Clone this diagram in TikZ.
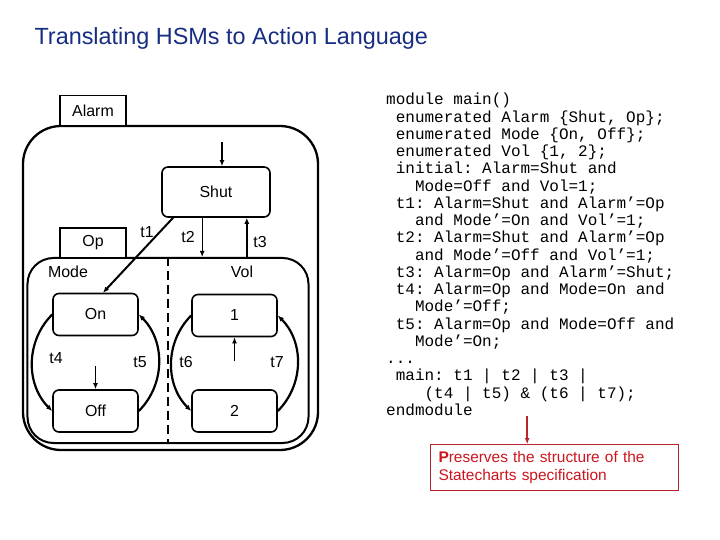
\documentclass[tikz,border=0pt]{standalone}
\usepackage{fontspec}
\setmainfont{Liberation Sans}
\setmonofont{Liberation Mono}
\usetikzlibrary{arrows.meta}
\definecolor{titleblue}{RGB}{24,46,130}
\definecolor{notered}{RGB}{205,20,30}
\definecolor{noteframe}{RGB}{185,35,45}
\newcommand{\pad}[1]{\hspace*{#1\fontcharwd\font`x}}

\begin{document}
\begin{tikzpicture}[x=1bp, y=-1bp, >={Latex[length=6bp,width=5bp]},
    box/.style={draw, line width=1.6bp, rounded corners=6bp, minimum width=85bp, minimum height=42bp, font=\fontsize{16}{16}\selectfont},
    tab/.style={draw, line width=1.3bp, fill=white, minimum width=66bp, minimum height=30bp, font=\fontsize{16}{16}\selectfont},
    lbl/.style={font=\fontsize{16}{16}\selectfont},
    trans/.style={->, line width=1.4bp},
    loopy/.style={->, line width=2.2bp}]
    \useasboundingbox (0,0) rectangle (720,540);
    \node[anchor=base west, text=titleblue, font=\fontsize{23.5}{23.5}\selectfont] (title) at (31,45) {Translating HSMs to Action Language};

    \node[draw, line width=2.3bp, rounded corners=38bp, minimum width=295bp, minimum height=324bp] (alarm) at (170.5,288) {};
    \node[tab] (alarmtab) at (93,110.5) {Alarm};
    \node[box, minimum width=108bp, minimum height=50bp] (shut) at (216,192) {Shut};
    \node[draw, line width=2bp, rounded corners=26bp, minimum width=281bp, minimum height=185bp] (op) at (168,350.5) {};
    \node[tab] (optab) at (93,243) {Op};
    \node[lbl] (mode) at (68,272) {Mode};
    \node[lbl] (vol) at (242,272) {Vol};
    \draw[dashed, line width=1.6bp, dash pattern=on 9bp off 5bp] (op.north) -- (op.south);

    \node[box] (on) at (95.5,314.5) {On};
    \node[box] (off) at (95.5,411) {Off};
    \node[box] (one) at (234.5,315.5) {1};
    \node[box] (two) at (234.5,411) {2};

    \draw[trans] ([xshift=6bp,yshift=24bp]shut.north) -- ([xshift=6bp]shut.north);
    \draw[line width=2bp, ->] (shut.211) -- (on.71);
    \draw[trans] ([xshift=41bp]shut.south west) coordinate (t2s) -- (t2s |- op.north);
    \draw[trans] ([xshift=-24bp]shut.south east |- op.north) -- ([xshift=-24bp]shut.south east);
    \node[lbl] (t1) at (147,232) {t1};
    \node[lbl] (t2) at (188,237) {t2};
    \node[lbl] (t3) at (260,242) {t3};

    \draw[trans] ([yshift=23bp]off.north) -- (off.north);
    \draw[trans] ([yshift=-24bp]one.south) -- (one.south);
    \draw[loopy] (on.west) to[bend right=45] (off.west);
    \draw[loopy] (off.east) to[bend right=45] (on.east);
    \draw[loopy] (one.west) to[bend right=45] (two.west);
    \draw[loopy] (two.east) to[bend right=45] (one.east);
    \node[lbl] (t4) at (56,358) {t4};
    \node[lbl] (t5) at (140,362) {t5};
    \node[lbl] (t6) at (186,362) {t6};
    \node[lbl] (t7) at (277,362) {t7};

    \node[anchor=north west, align=left, inner sep=0, font=\ttfamily\fontsize{16bp}{17.25bp}\selectfont\frenchspacing] (code) at (386,93) {module main()\\
        \pad1enumerated Alarm \{Shut, Op\};\\
        \pad1enumerated Mode \{On, Off\};\\
        \pad1enumerated Vol \{1, 2\};\\
        \pad1initial: Alarm=Shut and\\
        \pad3Mode=Off and Vol=1;\\
        \pad1t1: Alarm=Shut and Alarm’=Op\\
        \pad3and Mode’=On and Vol’=1;\\
        \pad1t2: Alarm=Shut and Alarm’=Op\\
        \pad3and Mode’=Off and Vol’=1;\\
        \pad1t3: Alarm=Op and Alarm’=Shut;\\
        \pad1t4: Alarm=Op and Mode=On and\\
        \pad3Mode’=Off;\\
        \pad1t5: Alarm=Op and Mode=Off and\\
        \pad3Mode’=On;\\
        ...\\
        \pad1main: t1 | t2 | t3 |\\
        \pad4(t4 | t5) \& (t6 | t7);\\
        endmodule};

    \node[draw=noteframe, line width=1bp, text=notered, align=left, anchor=north west, text width=232bp, minimum height=46bp, inner xsep=8bp, font=\fontsize{15.5}{19}\selectfont] (note) at (430,444) {\textbf{P}reserves the structure of the\\Statecharts specification};
    \draw[->, noteframe, line width=1.6bp] ([xshift=-3bp]code.south) -- ([xshift=-3bp]code.south |- note.north);
\end{tikzpicture}
\end{document}
